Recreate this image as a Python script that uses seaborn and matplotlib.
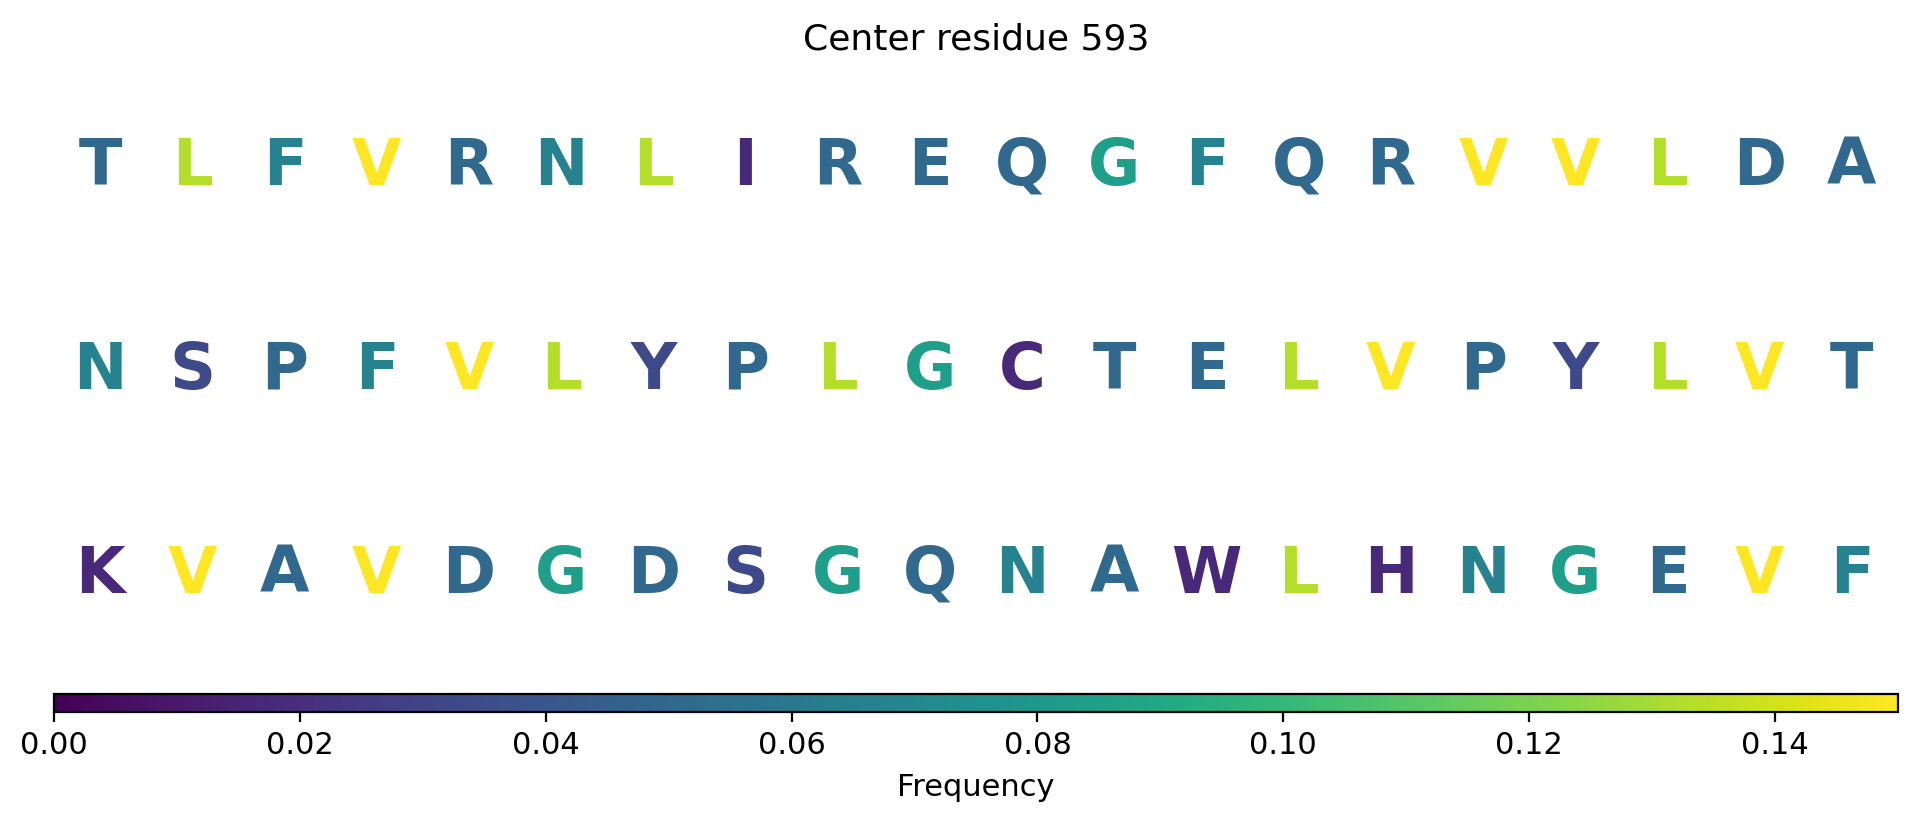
import numpy as np
import pandas as pd
import matplotlib
matplotlib.use("Agg")
import matplotlib.pyplot as plt
import seaborn as sns
from matplotlib.colors import Normalize
from matplotlib.cm import ScalarMappable

# ── Datos ─────────────────────────────────────────────────────────────────────
CENTER_RESIDUE = 593
ROW_1 = list("TLFVRNLIREQGFQRVVLDA")
ROW_2 = list("NSPFVLYPLGCTELVPYLVT")
ROW_3 = list("KVAVDGDSGQNAWLHNGEVF")

AA_LETTERS = ["V", "L", "G", "N", "F", "T", "R", "E", "Q", "D", "A", "P",
              "S", "Y", "I", "C", "K", "W", "H"]
AA_FREQ = [0.150, 0.1333, 0.0833, 0.0667, 0.0667, 0.05, 0.05, 0.05, 0.05,
           0.05, 0.05, 0.05, 0.0333, 0.0333, 0.0167, 0.0167, 0.0167,
           0.0167, 0.0167]

VMIN, VMAX = 0.0, 0.15

sns.set_style("white")
plt.rcParams.update({
    "font.family": ["DejaVu Sans"],
    "text.color": "black",
    "axes.labelcolor": "black",
    "axes.edgecolor": "black",
    "axes.linewidth": 0.8,
    "xtick.color": "black",
    "xtick.bottom": True,
    "xtick.major.width": 0.8,
    "xtick.major.size": 3.5,
})

freq = dict(zip(AA_LETTERS, AA_FREQ))
rows = [ROW_1, ROW_2, ROW_3]
df = pd.DataFrame([(r, c, aa) for r, row in enumerate(rows) for c, aa in enumerate(row)],
                  columns=["row", "col", "aa"])
df["freq"] = df["aa"].map(freq)

cmap = sns.color_palette("viridis", as_cmap=True)
norm = Normalize(vmin=VMIN, vmax=VMAX)

# ── Figura ────────────────────────────────────────────────────────────────────
fig = plt.figure(figsize=(9.585, 4.11), dpi=200)
ax = fig.add_axes([0.02817, 0.1768, 0.9619, 0.7445])
cax = fig.add_axes([0.02817, 0.1342, 0.9619, 0.0212])

n_cols = max(len(r) for r in rows)
ax.set_xlim(-0.5, n_cols - 0.5)
ax.set_ylim(len(rows) - 0.5, -0.5)
ax.axis("off")

for _, r in df.iterrows():
    ax.text(r["col"], r["row"], r["aa"], color=cmap(norm(r["freq"])),
            fontsize=23, fontweight="bold", ha="center", va="center")

ax.set_title(f"Center residue {CENTER_RESIDUE}", fontsize=13, pad=5.5)

sm = ScalarMappable(norm=norm, cmap=cmap)
cb = fig.colorbar(sm, cax=cax, orientation="horizontal")
cb.set_label("Frequency", fontsize=11, labelpad=4.5)
cb.ax.tick_params(labelsize=11, bottom=True, color="black", pad=3.5)

fig.savefig("out.png", dpi=200)
plt.close()
